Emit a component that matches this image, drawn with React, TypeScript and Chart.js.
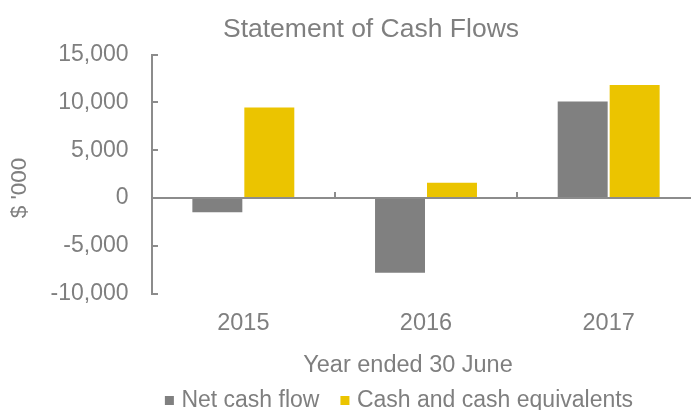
import React, { useEffect, useRef } from "react";
import { Chart, registerables } from "chart.js";

Chart.register(...registerables);

// ---- data ----
const categories = ["2015", "2016", "2017"];
const netCashFlow = [-1500, -7800, 10100];
const cashEquivalents = [9450, 1600, 11800];
const seriesNames = ["Net cash flow", "Cash and cash equivalents"];
const yTicks = [-10000, -5000, 0, 5000, 10000, 15000];
const chartTitle = "Statement of Cash Flows";
const xTitle = "Year ended 30 June";
const yTitle = "$ '000";

// ---- style ----
const TEXT = "#7f7f7f";
const BAR_GRAY = "#808080";
const BAR_YELLOW = "#EBC400";
const AXIS = "#8c8c8c";
const FONT = "'Liberation Sans', Arial, sans-serif";

const textPlugin = {
  id: "customText",
  afterDraw(chart: any) {
    const ctx = chart.ctx as CanvasRenderingContext2D;
    ctx.save();
    ctx.fillStyle = TEXT;

    // chart title
    ctx.font = `26.5px ${FONT}`;
    ctx.textAlign = "center";
    ctx.textBaseline = "alphabetic";
    ctx.fillText(chartTitle, 371, 37);

    // x axis title
    ctx.font = `23.5px ${FONT}`;
    ctx.fillText(xTitle, 408, 372);

    // y axis title
    ctx.save();
    ctx.translate(20, 188);
    ctx.rotate(-Math.PI / 2);
    ctx.font = `22.5px ${FONT}`;
    ctx.textAlign = "center";
    ctx.textBaseline = "middle";
    ctx.fillText(yTitle, 0, 0);
    ctx.restore();

    // legend
    ctx.font = `23px ${FONT}`;
    ctx.textAlign = "left";
    ctx.textBaseline = "alphabetic";
    const colors = [BAR_GRAY, BAR_YELLOW];
    const box = 9;
    const gapText = 7.5;
    const gapItem = 21;
    const widths = seriesNames.map((s) => ctx.measureText(s).width);
    const total =
      widths.reduce((a, w) => a + box + gapText + w, 0) + gapItem * (seriesNames.length - 1);
    let x = 399 - total / 2;
    seriesNames.forEach((name, i) => {
      ctx.fillStyle = colors[i];
      ctx.fillRect(x, 396, box, box);
      x += box + gapText;
      ctx.fillStyle = TEXT;
      ctx.fillText(name, x, 407);
      x += widths[i] + gapItem;
    });

    ctx.restore();
  },
};

export default function App() {
  const canvasRef = useRef<HTMLCanvasElement | null>(null);

  useEffect(() => {
    if (!canvasRef.current) return;
    const chart = new Chart(canvasRef.current, {
      type: "bar",
      data: {
        labels: categories,
        datasets: [
          {
            label: seriesNames[0],
            data: netCashFlow,
            backgroundColor: BAR_GRAY,
            borderWidth: 0,
            xAxisID: "x",
            yAxisID: "y",
          },
          {
            label: seriesNames[1],
            data: cashEquivalents,
            backgroundColor: BAR_YELLOW,
            borderWidth: 0,
            xAxisID: "x",
            yAxisID: "y",
          },
        ],
      },
      options: {
        animation: false,
        responsive: false,
        devicePixelRatio: 1,
        layout: { padding: { top: 54.5, right: 0, bottom: 0, left: 0 } },
        datasets: {
          bar: { barPercentage: 0.9615, categoryPercentage: 0.569 },
        },
        plugins: {
          legend: { display: false },
          title: { display: false },
          tooltip: { enabled: false },
        },
        scales: {
          x: {
            type: "category",
            position: { y: 0 } as any,
            offset: true,
            grid: {
              display: true,
              offset: true,
              drawOnChartArea: false,
              drawTicks: true,
              tickLength: -7,
              color: AXIS,
              lineWidth: 2,
            },
            border: { display: true, color: AXIS, width: 2 },
            ticks: { display: false },
          },
          xl: {
            type: "category",
            position: "bottom",
            offset: true,
            grid: { display: false, offset: true, drawTicks: false },
            border: { display: false },
            ticks: {
              color: TEXT,
              font: { family: FONT, size: 23.5 },
              padding: 15.7,
              maxRotation: 0,
              autoSkip: false,
            },
            afterFit: (s: any) => {
              s.height = 116.3;
            },
          },
          y: {
            type: "linear",
            position: "left",
            min: yTicks[0],
            max: yTicks[yTicks.length - 1],
            grid: {
              drawOnChartArea: false,
              drawTicks: true,
              tickLength: -6,
              color: AXIS,
              lineWidth: 2,
            },
            border: { display: true, color: AXIS, width: 2 },
            ticks: {
              color: TEXT,
              font: { family: FONT, size: 23 },
              padding: 29.5,
              callback: (v: any) => Number(v).toLocaleString("en-US"),
            },
            afterBuildTicks: (s: any) => {
              s.ticks = yTicks.map((v) => ({ value: v }));
            },
            afterFit: (s: any) => {
              s.width = 152;
            },
          },
        },
      },
      plugins: [textPlugin],
    });
    return () => chart.destroy();
  }, []);

  return (
    <div
      style={{
        position: "absolute",
        left: 0,
        top: 0,
        width: 691,
        height: 410,
        overflow: "hidden",
        background: "#ffffff",
      }}
    >
      <canvas ref={canvasRef} width={700} height={410} style={{ display: "block" }} />
    </div>
  );
}
